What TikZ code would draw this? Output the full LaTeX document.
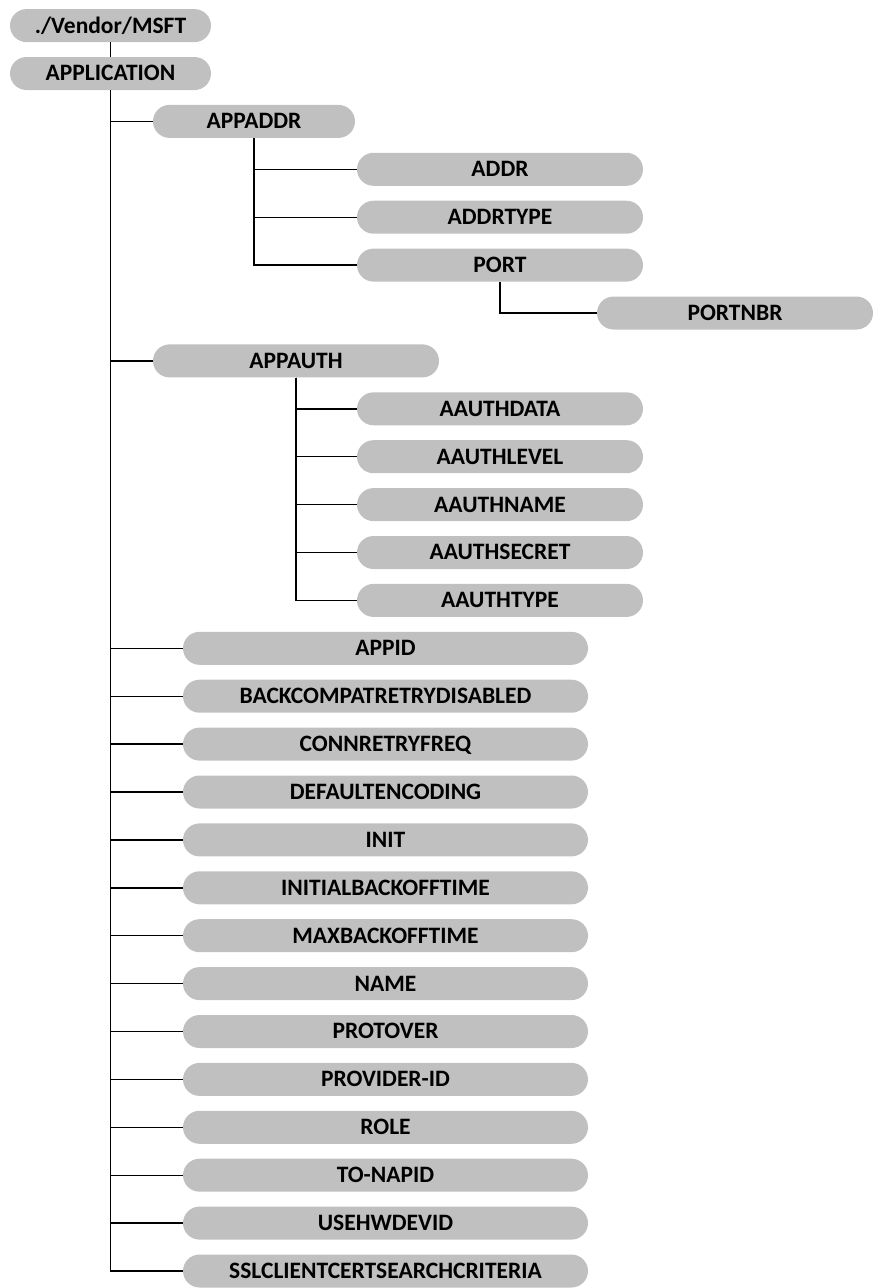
\documentclass[tikz,border=0pt]{standalone}
\usepackage{fontspec}
\setmainfont{Carlito}
\begin{document}
\begin{tikzpicture}[x=1pt,y=-1pt,
  pill/.style={draw=none,fill=pillgray,rounded corners=16.5pt,minimum height=33pt,
    inner sep=0pt,font=\fontsize{23.5}{25}\selectfont\bfseries,text height=14.8pt,text depth=0pt},
  top/.style={pill,minimum width=201pt},
  mid/.style={pill,minimum width=202pt},
  midw/.style={pill,minimum width=286pt},
  leafw/.style={pill,minimum width=286pt},
  pnbr/.style={pill,minimum width=276pt},
  leaf/.style={pill,minimum width=405pt},
  conn/.style={draw=black,line width=1.4pt}]
\definecolor{pillgray}{RGB}{192,192,192}
\useasboundingbox (0,0) rectangle (873,1288);
% top
\node[top] (vendor) at (110.5,25.6) {./Vendor/MSFT};
\node[top] (application) at (110.5,73.5) {APPLICATION};
% APPADDR
\node[mid] (appaddr) at (254,121.4) {APPADDR};
\node[leafw] (addr) at (500,169.3) {ADDR};
\node[leafw] (addrtype) at (500,217.2) {ADDRTYPE};
\node[leafw] (port) at (500,265.1) {PORT};
\node[pnbr] (portnbr) at (735,313.0) {PORTNBR};
% APPAUTH
\node[midw] (appauth) at (296,360.9) {APPAUTH};
\node[leafw] (aauthdata) at (500,408.8) {AAUTHDATA};
\node[leafw] (aauthlevel) at (500,456.7) {AAUTHLEVEL};
\node[leafw] (aauthname) at (500,504.6) {AAUTHNAME};
\node[leafw] (aauthsecret) at (500,552.5) {AAUTHSECRET};
\node[leafw] (aauthtype) at (500,600.4) {AAUTHTYPE};
% leaves
\node[leaf] (appid) at (385.5,648.3) {APPID};
\node[leaf] (backcompat) at (385.5,696.2) {BACKCOMPATRETRYDISABLED};
\node[leaf] (connretry) at (385.5,744.1) {CONNRETRYFREQ};
\node[leaf] (defenc) at (385.5,792.0) {DEFAULTENCODING};
\node[leaf] (init) at (385.5,839.9) {INIT};
\node[leaf] (initback) at (385.5,887.8) {INITIALBACKOFFTIME};
\node[leaf] (maxback) at (385.5,935.7) {MAXBACKOFFTIME};
\node[leaf] (name) at (385.5,983.6) {NAME};
\node[leaf] (protover) at (385.5,1031.5) {PROTOVER};
\node[leaf] (provider) at (385.5,1079.4) {PROVIDER-ID};
\node[leaf] (role) at (385.5,1127.3) {ROLE};
\node[leaf] (tonapid) at (385.5,1175.2) {TO-NAPID};
\node[leaf] (usehw) at (385.5,1223.1) {USEHWDEVID};
\node[leaf] (sslclient) at (385.5,1271.0) {SSLCLIENTCERTSEARCHCRITERIA};
% connectors
\draw[conn] (vendor.south) -- (application.north);
\foreach \c in {appaddr,appauth,appid,backcompat,connretry,defenc,init,initback,maxback,name,protover,provider,role,tonapid,usehw,sslclient}
  \draw[conn] (application.south) |- (\c.west);
\foreach \c in {addr,addrtype,port}
  \draw[conn] (appaddr.south) |- (\c.west);
\draw[conn] (port.south) |- (portnbr.west);
\foreach \c in {aauthdata,aauthlevel,aauthname,aauthsecret,aauthtype}
  \draw[conn] (appauth.south) |- (\c.west);
\end{tikzpicture}
\end{document}
